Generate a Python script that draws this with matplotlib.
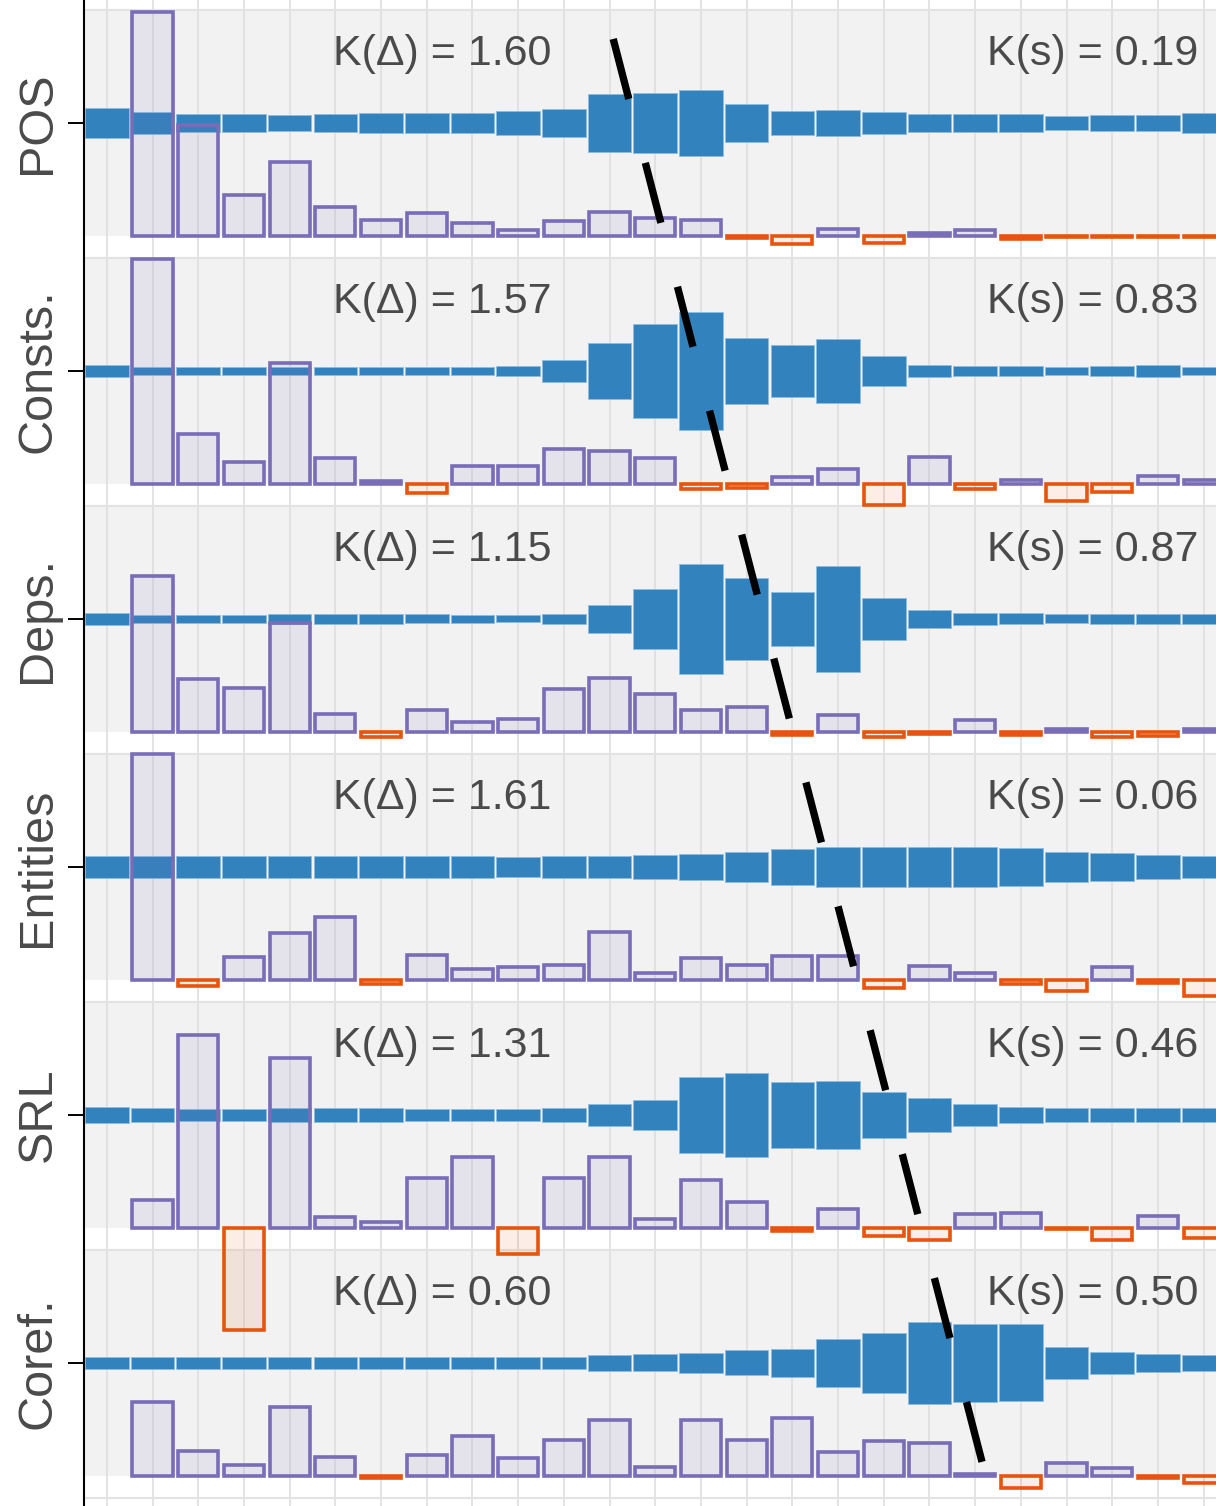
import matplotlib
matplotlib.use('Agg')
import matplotlib.pyplot as plt
import numpy as np

plt.rcParams['font.family'] = ['Liberation Sans', 'DejaVu Sans']

# ---------------- data ----------------
tasks = ['POS', 'Consts.', 'Deps.', 'Entities', 'SRL', 'Coref.']
k_delta = ['1.60', '1.57', '1.15', '1.61', '1.31', '0.60']
k_s = ['0.19', '0.83', '0.87', '0.06', '0.46', '0.50']

layers_s = list(range(0, 25))   # mixing-weight layers
layers_d = list(range(1, 25))   # differential-score layers

# mixing weights (relative units)
s_pos = [30, 23, 19, 18, 17, 18, 20, 20, 20, 25, 28, 58, 61, 66, 39, 25, 27, 22, 19, 19, 18, 15, 16, 17, 20]
s_consts = [11.7, 8, 8.3, 8.3, 8.3, 8, 8, 8, 7.3, 10.3, 21.3, 56.7, 94.7, 118.7, 66.3, 52, 63.3, 30, 11.7, 10, 10, 8.7, 10, 11.3, 8.7]
s_deps = [11.7, 8.3, 7.3, 7.3, 10, 10.7, 10.7, 9, 7.3, 7, 9.7, 28, 60, 110, 82, 54, 106.7, 42, 17.3, 12.7, 11, 9, 10, 10.7, 10]
s_ent = [22.7, 22, 22, 22, 22, 22, 22, 22, 22, 19.3, 21.7, 22, 24, 26.7, 30.7, 35.7, 40.3, 39.3, 39.3, 40, 37.3, 30, 28, 24.7, 22.3]
s_srl = [16.7, 14, 12, 12.7, 14, 14.7, 14.7, 11.7, 11.7, 11.7, 13.3, 21.7, 30.7, 75.3, 83.3, 66.3, 68, 46, 34, 21.7, 16.3, 14, 14, 14, 14]
s_coref = [12.3, 12.3, 12.3, 12.3, 12.3, 12.3, 12.3, 12, 12, 12, 12.5, 16, 17, 20, 25, 28, 48.7, 60.7, 82.7, 78.3, 77, 32.7, 22.3, 18.7, 16]

# differential scores (relative units)
d_pos = [224, 111, 41, 74, 29, 16, 23, 13, 6, 15, 24, 18, 16, -2, -8, 6.5, -7, 3, 6, -3, -1.5, -1.5, -1.5, -1.5]
d_consts = [225, 50, 22, 121, 26, 3, -9, 18, 18, 35, 33, 26, -5, -4, 7, 15, -21, 27, -5, 4, -17, -8, 8, 4]
d_deps = [156, 53, 44, 109, 18, -5, 22, 10, 13, 43, 54, 38, 22, 25, -3, 17, -5, -2, 12, -3, 3, -5, -4, 3]
d_ent = [226, -6, 23, 47, 63, -4, 25, 11, 13, 15, 48, 7, 22, 15, 24, 24, -8, 14, 7, -4, -11, 13, -3, -16]
d_srl = [28, 193, -102, 170, 11, 6, 50, 71, -26, 50, 71, 9, 48, 26, -3, 19, -8, -12, 14, 15, -1, -12, 12, -10]
d_coref = [74, 25, 11, 69, 19, -2, 21, 40, 18, 36, 56, 9, 56, 36, 58, 24, 35, 33, 2, -12, 13, 8, -2, -7]

s_all = [s_pos, s_consts, s_deps, s_ent, s_srl, s_coref]
d_all = [d_pos, d_consts, d_deps, d_ent, d_srl, d_coref]

# dashed trend line (layer position, row position)
trend_layer = [11.08, 19.15]
trend_row = [0.339, -5.399]

# ---------------- style ----------------
BLUE = '#3182bd'
PURPLE = '#7a6db8'
ORANGE = '#e6550d'
TEXT = '#4a4a4a'
PANEL = '#f2f2f2'
GRID = '#e0e0e0'
UNIT = 248.0          # relative units per row
HALF = 0.4556         # half panel height (rows)

fig = plt.figure(figsize=(12.16, 15.06), dpi=100)
ax = fig.add_axes([84 / 1216, 0, 1132 / 1216, 1])
ax.set_facecolor('white')

ax.set_xlim(-0.5, 24.27)
ax.set_ylim(-5.577, 0.496)

n = len(tasks)
for i in range(n):
    c = -i
    ax.axhspan(c - HALF, c + HALF, color=PANEL, lw=0, zorder=0)
for i in range(n + 1):
    ax.axhline(-i + HALF, color='#e3e3e3', lw=1.5, zorder=0.6)
for k in layers_s:
    ax.axvline(k, color=GRID, lw=1.3, zorder=0.5)

for i in range(n):
    c = -i
    s = np.array(s_all[i]) / UNIT
    ax.bar(layers_s, s, bottom=c - s / 2, width=0.955, color=BLUE,
           edgecolor='#8dbde0', linewidth=0.6, zorder=2)
    d = np.array(d_all[i]) / UNIT
    base = c - HALF
    xs = np.array(layers_d)
    pos = d >= 0
    ax.bar(xs[pos], d[pos], bottom=base, width=0.88,
           facecolor=matplotlib.colors.to_rgba(PURPLE, 0.11),
           edgecolor=PURPLE, linewidth=2.6, zorder=3)
    ax.bar(xs[~pos], d[~pos], bottom=base, width=0.88,
           facecolor=matplotlib.colors.to_rgba(ORANGE, 0.1),
           edgecolor=ORANGE, linewidth=2.6, zorder=3)
    ax.text(4.95, c + 0.234, f'K(\u0394) = {k_delta[i]}', fontsize=31,
            color=TEXT, ha='left', va='baseline', zorder=5)
    ax.text(23.876, c + 0.234, f'K(s) = {k_s[i]}', fontsize=31,
            color=TEXT, ha='right', va='baseline', zorder=5)

ax.plot(trend_layer, trend_row, color='black', lw=5.3,
        linestyle=(0, (8.42, 8.97)), solid_capstyle='butt',
        dash_capstyle='butt', zorder=6)

# axes styling
for sp in ['top', 'right', 'bottom']:
    ax.spines[sp].set_visible(False)
ax.spines['left'].set_color('black')
ax.spines['left'].set_linewidth(1.5)
ax.set_xticks([])
ax.set_yticks([-i for i in range(n)])
ax.set_yticklabels(tasks, rotation=90, va='center')
ax.tick_params(axis='y', length=11.5, width=1.4, pad=5.5, labelsize=35,
               labelcolor=TEXT, color='black')

fig.savefig('out.png', dpi=100)
